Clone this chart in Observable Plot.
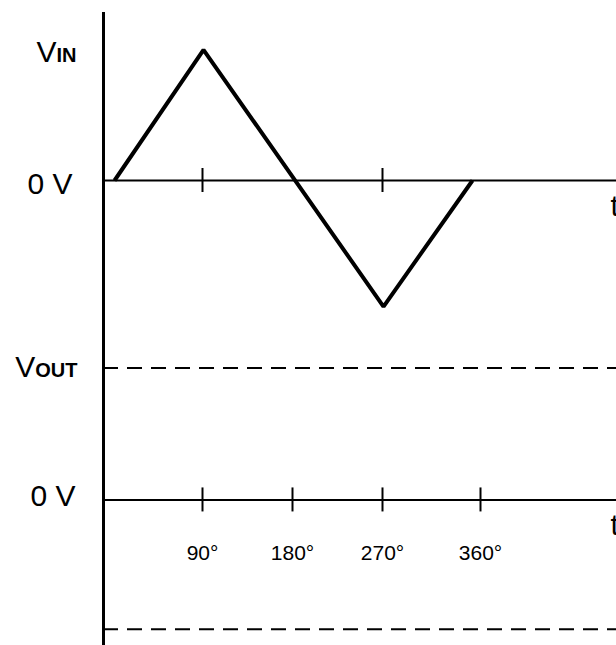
<!DOCTYPE html>
<html><head><meta charset="utf-8">
<script src="https://cdn.jsdelivr.net/npm/d3@7"></script>
<script src="https://cdn.jsdelivr.net/npm/@observablehq/plot@0.6"></script>
<style>body{margin:0;background:#fff;overflow:hidden}</style>
</head><body><div id="chart"></div>
<script>
// Input triangle wave (phase in degrees, relative voltage, peak = 1)
const vinDegrees = [2, 91, 271, 360];
const vinVolts = [0, 0.99, -0.955, 0];
// Tick marks on the two time axes
const topTickDegrees = [90, 270];
const bottomTickDegrees = [90, 180, 270, 368];
const bottomTickLabels = ["90°", "180°", "270°", "360°"];
// Output panel: blank levels drawn dashed
const voutLevels = [1, -0.98];
const outputOffset = -2.42;
// Row labels
const rowLabelTexts = ["V|IN", "0 V", "V|OUT", "0 V"];
const rowLabelVolts = [0.894, -0.106, 0.928 + outputOffset, -0.045 + outputOffset];
const rowLabelDegrees = [-36, -40, -35, -37];
const timeLabel = "t";

const PX = 132; // px per volt unit
const yMin = -465 / PX, yMax = 180 / PX;
const axisDeg = -9, xMax = 504;

const vin = vinDegrees.map((d, i) => ({deg: d, v: vinVolts[i]}));
const ticksBottom = bottomTickDegrees.map((d, i) => ({deg: d, label: bottomTickLabels[i]}));
const rowLabels = rowLabelTexts.map((t, i) => ({t, v: rowLabelVolts[i], deg: rowLabelDegrees[i]}));

const svg = Plot.plot({
  width: 616, height: 645,
  marginTop: 0, marginRight: 0, marginBottom: 0, marginLeft: 0,
  x: {domain: [-112, xMax], axis: null},
  y: {domain: [yMin, yMax], axis: null},
  style: {fontFamily: "'Liberation Sans', Arial, sans-serif", background: "#fff", overflow: "visible"},
  marks: [
    Plot.ruleY(voutLevels.map(v => v + outputOffset), {x1: axisDeg, x2: xMax, stroke: "#000", strokeWidth: 2, strokeDasharray: "15,9"}),
    Plot.ruleY([0, outputOffset], {x1: axisDeg, x2: xMax, stroke: "#000", strokeWidth: 2}),
    Plot.ruleX(topTickDegrees, {x: d => d, y1: 0, y2: 0, insetTop: -12, insetBottom: -12, stroke: "#000", strokeWidth: 2}),
    Plot.ruleX(ticksBottom, {x: "deg", y1: outputOffset, y2: outputOffset, insetTop: -12, insetBottom: -12, stroke: "#000", strokeWidth: 2}),
    Plot.ruleX([axisDeg], {y1: 1.273, y2: yMin, stroke: "#000", strokeWidth: 3}),
    Plot.line(vin, {x: "deg", y: "v", stroke: "#000", strokeWidth: 4, strokeLinejoin: "miter", strokeLinecap: "butt"}),
    Plot.text(ticksBottom, {x: "deg", y: outputOffset, text: "label", dy: 60, lineAnchor: "bottom", fontSize: 21, fill: "#000"}),
    Plot.text(rowLabels, {x: "deg", y: "v", text: "t", textAnchor: "end", lineAnchor: "bottom", fontSize: 30, fill: "#000"}),
    Plot.text([0, outputOffset], {x: 498, y: d => d, text: () => timeLabel, textAnchor: "start", lineAnchor: "bottom", dy: 35, fontSize: 30, fill: "#000"})
  ]
});

d3.select(svg).selectAll("text").each(function () {
  const t = this.textContent;
  if (t.includes("|")) {
    const [a, b] = t.split("|");
    this.textContent = "";
    d3.select(this).append("tspan").text(a);
    d3.select(this).append("tspan").attr("font-size", 20).attr("font-weight", "bold").text(b);
  }
});
document.getElementById("chart").append(svg);
</script>
</body></html>
